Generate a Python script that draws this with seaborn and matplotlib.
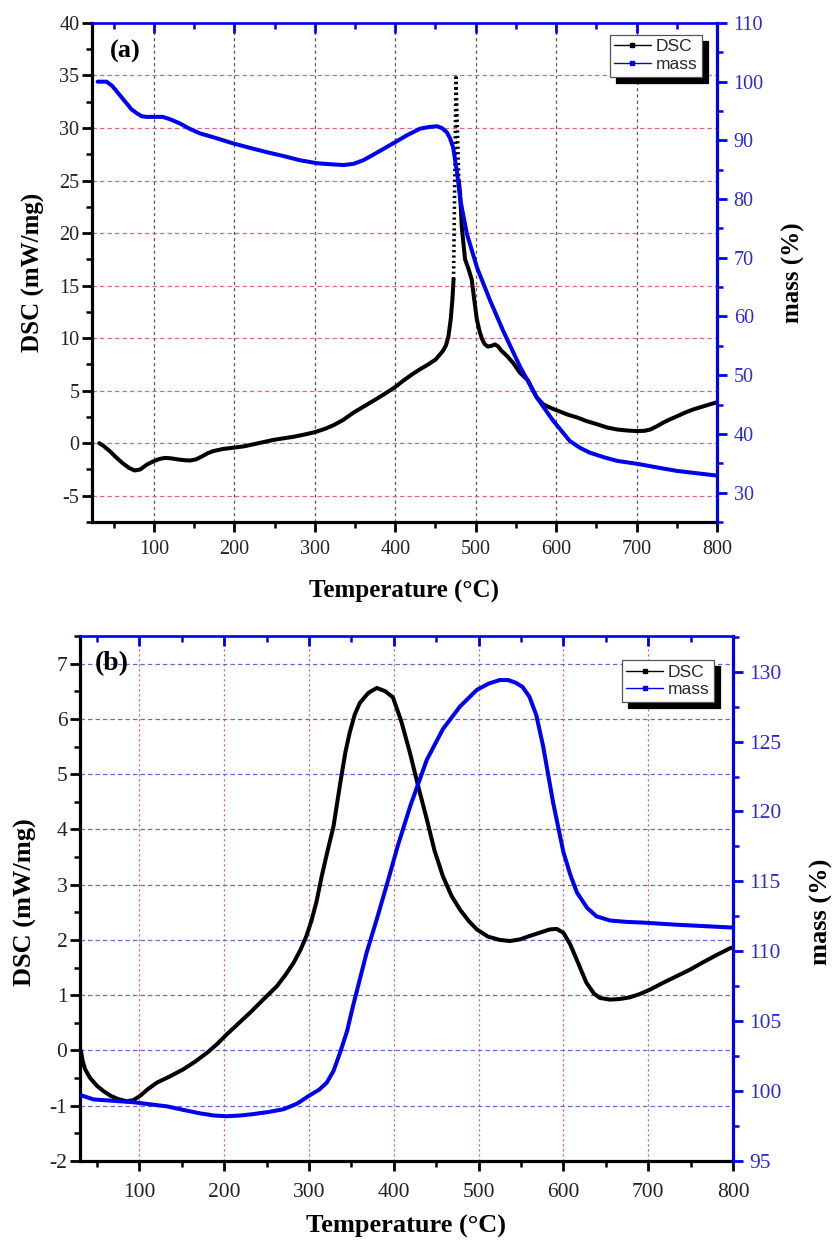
import numpy as np
import pandas as pd
import matplotlib
matplotlib.use("Agg")
import matplotlib.pyplot as plt
import seaborn as sns
from matplotlib.ticker import MultipleLocator
from matplotlib.lines import Line2D

sns.set_theme(style="ticks")
plt.rcParams['font.family'] = ['Liberation Serif', 'DejaVu Serif']
plt.rcParams['axes.unicode_minus'] = False

# ---------------- data : panel (a) ----------------
a_dsc_T1 = [32, 38, 45, 53, 61, 69, 76, 83, 91, 100, 107, 114, 122, 130, 138, 145, 152, 160, 167,
            174, 186, 200, 212, 223, 236, 248, 260, 273, 286, 300, 312, 323, 335, 348, 360, 372,
            386, 400, 410, 420, 430, 440, 450, 459, 463, 466, 469, 471, 472.5]
a_dsc_V1 = [0.0, -0.3, -0.75, -1.35, -1.9, -2.35, -2.6, -2.5, -2.05, -1.7, -1.5, -1.4, -1.45,
            -1.55, -1.62, -1.65, -1.55, -1.25, -0.95, -0.75, -0.55, -0.42, -0.3, -0.12, 0.1, 0.3,
            0.45, 0.6, 0.8, 1.05, 1.35, 1.7, 2.2, 2.9, 3.45, 4.0, 4.65, 5.35, 5.95, 6.5, 7.0, 7.45,
            7.95, 8.75, 9.3, 10.1, 11.8, 13.6, 15.6]
a_spike_T = [472.5, 475.5, 479]
a_spike_V = [15.6, 34.8, 25.0]
a_dsc_T2 = [479, 480.6, 482.7, 486.8, 491, 495, 498, 501.4, 505, 508, 511, 515, 519, 524, 528, 532,
            539, 547, 555, 560, 565, 570, 576, 584, 595, 605, 615, 626, 638, 651, 663, 676, 689,
            701, 710, 717, 725, 733, 741, 750, 760, 770, 785, 800]
a_dsc_V2 = [25.0, 23.8, 20.6, 17.5, 16.6, 15.6, 13.8, 11.8, 10.6, 9.9, 9.45, 9.2, 9.25, 9.4, 9.2,
            8.8, 8.3, 7.6, 6.7, 6.35, 6.0, 5.2, 4.35, 3.7, 3.3, 3.0, 2.7, 2.45, 2.1, 1.8, 1.5, 1.3,
            1.2, 1.15, 1.18, 1.3, 1.6, 1.95, 2.25, 2.55, 2.9, 3.2, 3.55, 3.9]
a_mass_T = [30, 41, 48, 54, 60, 66, 72, 79, 85, 91, 100, 111, 120, 132, 144, 157, 177, 198, 220, 240,
            262, 282, 303, 323, 336, 348, 360, 372, 386, 400, 415, 431, 443, 452, 458, 464, 468,
            472, 477, 481, 489, 502, 518, 534, 555, 576, 596, 617, 630, 642, 660, 676, 701, 725,
            750, 775, 800]
a_mass_V = [100, 100, 99.3, 98.3, 97.3, 96.3, 95.3, 94.6, 94.1, 94.0, 94.0, 94.0, 93.6, 92.9, 92.0,
            91.2, 90.4, 89.5, 88.7, 88.0, 87.3, 86.6, 86.1, 85.9, 85.8, 86.0, 86.6, 87.5, 88.6,
            89.7, 90.9, 92.0, 92.3, 92.4, 92.1, 91.4, 90.4, 88.8, 84.4, 79.8, 74.1, 68.2, 62.7,
            57.6, 51.5, 46.2, 42.3, 38.8, 37.6, 36.8, 36.0, 35.4, 34.9, 34.3, 33.7, 33.3, 32.9]

# ---------------- data : panel (b) ----------------
b_dsc_T = [31, 33, 36, 42, 50, 58, 66, 75, 85, 93, 101, 110, 121, 136, 152, 166, 180, 192, 203,
           217, 231, 246, 262, 272, 282, 290, 297, 303, 309, 315, 321, 329, 337, 343, 348, 354, 360,
           370, 380, 390, 399, 409, 419, 429, 439, 448, 458, 468, 478, 488, 498, 511, 525, 537,
           549, 560, 572, 584, 592, 600, 608, 618, 627, 636, 643, 655, 666, 678, 690, 702, 717,
           733, 749, 764, 781, 798]
b_dsc_V = [0.0, -0.18, -0.34, -0.5, -0.64, -0.74, -0.82, -0.88, -0.92, -0.9, -0.82, -0.7, -0.58,
           -0.47, -0.34, -0.2, -0.04, 0.12, 0.29, 0.49, 0.69, 0.92, 1.16, 1.36, 1.59, 1.82, 2.07,
           2.35, 2.7, 3.15, 3.55, 4.06, 4.85, 5.4, 5.75, 6.08, 6.29, 6.47, 6.56, 6.5, 6.39, 5.95,
           5.39, 4.77, 4.18, 3.62, 3.15, 2.8, 2.55, 2.35, 2.19, 2.06, 2.0, 1.98, 2.01, 2.07, 2.13,
           2.19, 2.2, 2.13, 1.92, 1.56, 1.23, 1.03, 0.95, 0.92, 0.93, 0.96, 1.02, 1.1, 1.22, 1.34,
           1.46, 1.59, 1.73, 1.86]
b_mass_T = [31, 46, 70, 93, 113, 133, 152, 172, 188, 203, 219, 234, 252, 270, 286, 301, 312, 321,
            329, 337, 345, 352, 360, 368, 380, 392, 405, 419.5, 439, 458, 478, 498, 512, 525, 535,
            544, 552, 560, 568, 576, 588, 600, 608, 616, 628, 639, 655, 675, 694, 733, 798]
b_mass_V = [99.7, 99.4, 99.3, 99.2, 99.05, 98.9, 98.65, 98.4, 98.25, 98.2, 98.25, 98.35, 98.5, 98.7,
            99.1, 99.7, 100.1, 100.6, 101.45, 102.8, 104.3, 106.1, 108.0, 109.9, 112.3, 114.8,
            117.6, 120.4, 123.7, 125.9, 127.5, 128.7, 129.15, 129.4, 129.4, 129.2, 128.9, 128.2,
            126.9, 124.7, 120.6, 117.1, 115.5, 114.2, 113.1, 112.5, 112.2, 112.1, 112.05, 111.9,
            111.7]

legend_labels = ["DSC", "mass"]
x_label = "Temperature (°C)"
y_left_label = "DSC (mW/mg)"
y_right_label = "mass (%)"

BLUE = "#0000f0"
BLUE_TXT = "#2a2ad8"
TXT = "#222222"

fig = plt.figure(figsize=(8.34, 12.41), dpi=100)


def line(ax, T, V, color, lw=2.9, **kw):
    kw.setdefault('solid_joinstyle', 'round')
    kw.setdefault('solid_capstyle', 'round')
    sns.lineplot(x=T, y=V, ax=ax, color=color, lw=lw, sort=False, estimator=None,
                 legend=False, **kw)


def style(ax, ax2, xlim, ylim, ylim2, ymaj, ymin, y2maj, y2min, tsize, hcol, hdash, vcol, vdash,
          lsize, xl_y, yl_x, yl_y, y2l_x, y2l_y, tag, tag_xy, leg_anchor, bpad):
    ax.set_xlim(*xlim)
    ax.set_ylim(*ylim)
    ax2.set_ylim(*ylim2)
    ax.xaxis.set_major_locator(MultipleLocator(100))
    ax.xaxis.set_minor_locator(MultipleLocator(50))
    ax.yaxis.set_major_locator(MultipleLocator(ymaj))
    ax.yaxis.set_minor_locator(MultipleLocator(ymin))
    ax2.yaxis.set_major_locator(MultipleLocator(y2maj))
    ax2.yaxis.set_minor_locator(MultipleLocator(y2min))
    ax.grid(False)
    ax2.grid(False)
    ax.yaxis.grid(True, which='major', color=hcol, lw=0.9, linestyle=(0, hdash))
    ax.xaxis.grid(True, which='major', color=vcol, lw=0.9, linestyle=(0, vdash))
    for s in ['top', 'right']:
        ax.spines[s].set_visible(False)
    for s in ['left', 'bottom']:
        ax.spines[s].set_visible(True)
        ax.spines[s].set_color('black')
        ax.spines[s].set_linewidth(2.3)
        ax2.spines[s].set_visible(False)
    ax2.spines['right'].set_visible(True)
    ax2.spines['right'].set_color(BLUE)
    ax2.spines['right'].set_linewidth(2.3)
    ax2.spines['top'].set_visible(True)
    ax2.spines['top'].set_color(BLUE)
    ax2.spines['top'].set_linewidth(1.9)
    ax.tick_params(axis='both', which='major', length=7, width=2, color='black',
                   labelsize=tsize, labelcolor=TXT)
    ax.tick_params(axis='both', which='minor', length=4, width=1.8, color='black')
    ax.tick_params(axis='x', which='both', direction='out', top=False, bottom=True, pad=bpad)
    ax.tick_params(axis='y', which='both', direction='out', left=True, right=False, pad=2)
    ax2.xaxis.set_visible(True)
    ax2.xaxis.tick_top()
    ax2.tick_params(axis='x', which='both', direction='in', color=BLUE, top=True, bottom=False,
                    labeltop=False, labelbottom=False)
    ax2.tick_params(axis='x', which='major', length=7, width=2)
    ax2.tick_params(axis='x', which='minor', length=4, width=1.8)
    ax2.tick_params(axis='y', which='both', direction='out', color=BLUE, labelcolor=BLUE_TXT,
                    right=True, left=False, labelsize=tsize, pad=5)
    ax2.tick_params(axis='y', which='major', length=7, width=2)
    ax2.tick_params(axis='y', which='minor', length=4, width=1.8)
    ax.set_xticks([t for t in range(100, 801, 100)])
    ax.set_xlabel(x_label, fontsize=lsize, fontweight='bold', color='black')
    ax.set_ylabel(y_left_label, fontsize=lsize, fontweight='bold', color='black')
    ax2.set_ylabel(y_right_label, fontsize=lsize, fontweight='bold', color='black')
    ax.xaxis.set_label_coords(0.5, xl_y)
    ax.yaxis.set_label_coords(yl_x, yl_y)
    ax2.yaxis.set_label_coords(y2l_x, y2l_y)
    ax.text(tag_xy[0], tag_xy[1], tag, transform=ax.transAxes, fontsize=lsize + 1,
            fontweight='bold', ha='left', va='center', color='black')
    handles = [Line2D([], [], color='black', lw=1.0, marker='s', markersize=2.6),
               Line2D([], [], color=BLUE, lw=1.0, marker='s', markersize=2.6)]
    leg = ax2.legend(handles, legend_labels, loc='upper right', bbox_to_anchor=leg_anchor,
                     borderaxespad=0, fancybox=False, framealpha=1, edgecolor='#555555',
                     prop={'family': 'Liberation Sans', 'size': 12.5}, handlelength=2.1,
                     handletextpad=0.3, borderpad=0.25, labelspacing=0.15,
                     shadow={'ox': 4.5, 'oy': -4.5, 'color': 'black', 'alpha': 1.0})
    leg.get_frame().set_linewidth(0.9)
    leg.set_zorder(10)


# ---------------- panel (a) ----------------
axA = fig.add_axes([0.1103, 0.5794, 0.7494, 0.4021])
axA2 = axA.twinx()
line(axA, a_dsc_T1, a_dsc_V1, 'black')
line(axA, a_spike_T, a_spike_V, 'black', lw=2.6, linestyle=(0, (0.6, 0.9)))
line(axA, a_dsc_T2, a_dsc_V2, 'black')
line(axA2, a_mass_T, a_mass_V, BLUE)
style(axA, axA2, (23, 800), (-7.5, 40), (25, 110), 5, 2.5, 10, 5, 14.5,
      '#e0609a', (3.5, 2.5), '#555555', (2.5, 2.5), 18,
      -0.116, -0.075, 0.5, 1.104, 0.5, '(a)', (0.029, 0.942), (0.976, 0.976), 6)

# ---------------- panel (b) ----------------
axB = fig.add_axes([0.0959, 0.0645, 0.7830, 0.4230])
axB2 = axB.twinx()
line(axB, b_dsc_T, b_dsc_V, 'black')
line(axB2, b_mass_T, b_mass_V, BLUE)
style(axB, axB2, (30, 800), (-2, 7.5), (95, 132.55), 1, 0.5, 5, 2.5, 15.5,
      '#6464e0', (3.5, 2.5), '#e06464', (1.8, 2.2), 19,
      -0.103, -0.066, 0.493, 1.118, 0.475, '(b)', (0.023, 0.947), (0.971, 0.954), 9)

fig.savefig("out.png", dpi=100)
